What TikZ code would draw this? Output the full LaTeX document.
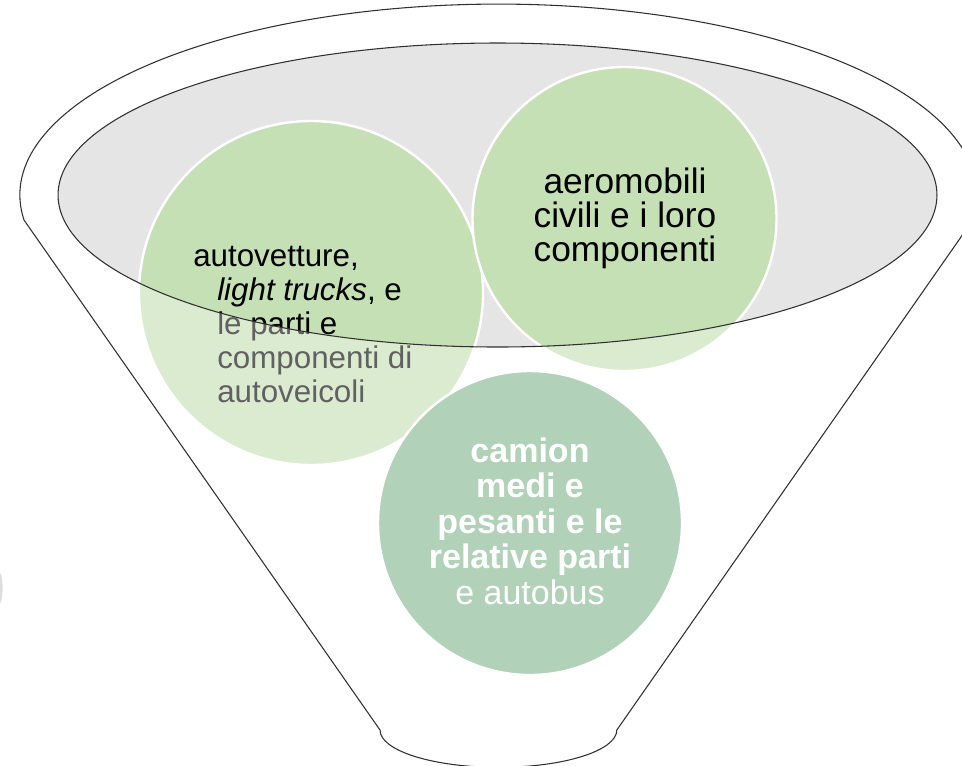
\documentclass[tikz,border=0pt]{standalone}
\usepackage{fontspec}
\setmainfont{Liberation Sans}
\definecolor{rimgrey}{HTML}{E5E5E5}
\definecolor{leafgreen}{HTML}{C5E0B4}
\definecolor{sagegreen}{HTML}{B2D1B9}
\definecolor{outline}{HTML}{303030}
\begin{document}
\begin{tikzpicture}[x=0.75pt,y=-0.75pt,
  bubble/.style={circle, inner sep=0pt, draw=white, line width=1.8pt},
  ltxt/.style={anchor=base west, inner sep=0pt, font=\fontsize{23.5}{25}\selectfont},
  ctxt/.style={anchor=base, inner sep=0pt, font=\fontsize{26.5}{26}\selectfont},
  btxt/.style={anchor=base, inner sep=0pt, text=white, font=\fontsize{25.5}{26}\selectfont\bfseries},
  wtxt/.style={anchor=base, inner sep=0pt, text=white, font=\fontsize{25.5}{26}\selectfont},
  rim/.style={draw=outline, line width=0.8pt}]
\useasboundingbox (0,0) rectangle (962,765);
% faint cut-off object at the left edge
\fill[black!60, fill opacity=0.22] (-2,588) ellipse[x radius=3.5pt, y radius=13pt];
% funnel outline
\coordinate (rimL) at (24,220);
\coordinate (spoutR) at (616.8,730);
\draw[rim] (rimL) arc[start angle=187.5, end angle=-7.5, x radius=358.9pt, y radius=143.25pt]
  -- (spoutR) arc[start angle=0, end angle=-180, x radius=88.8pt, y radius=28pt] -- cycle;
% grey mouth
\coordinate (mouth) at (497.5,195);
\fill[rimgrey] (mouth) ellipse[x radius=329.6pt, y radius=114pt];
% circles
\node[bubble, fill=leafgreen, minimum size=258pt] (cars) at (311,293) {};
\node[ltxt] (c1) at (193,266) {autovetture,};
\node[ltxt] (c2) at (217,300) {\textit{light trucks}, e};
\node[ltxt] (c3) at (217,334) {le parti e};
\node[ltxt] (c4) at (217,368) {componenti di};
\node[ltxt] (c5) at (217,402) {autoveicoli};
\node[bubble, fill=leafgreen, minimum size=228pt] (planes) at (624.5,219) {};
\node[ctxt] (p1) at (625,193) {aeromobili};
\node[ctxt] (p2) at (625,227) {civili e i loro};
\node[ctxt] (p3) at (625,261) {componenti};
% veil outside the mouth
\begin{scope}
  \clip (cars.center) circle[radius=130.5pt] (planes.center) circle[radius=115.5pt];
  \fill[white, fill opacity=0.38, even odd rule] (-10,-10) rectangle (975,780)
    (mouth) ellipse[x radius=329.6pt, y radius=114pt];
\end{scope}
\node[bubble, fill=sagegreen, minimum size=228pt] (trucks) at (530,523) {};
\node[btxt] (t1) at (530,462) {camion};
\node[btxt] (t2) at (530,497.5) {medi e};
\node[btxt] (t3) at (530,533) {pesanti e le};
\node[btxt] (t4) at (530,568.5) {relative parti};
\node[wtxt] (t5) at (530,604) {e autobus};
% mouth outline on top
\draw[rim] (mouth) ellipse[x radius=329.6pt, y radius=114pt];
\end{tikzpicture}
\end{document}
